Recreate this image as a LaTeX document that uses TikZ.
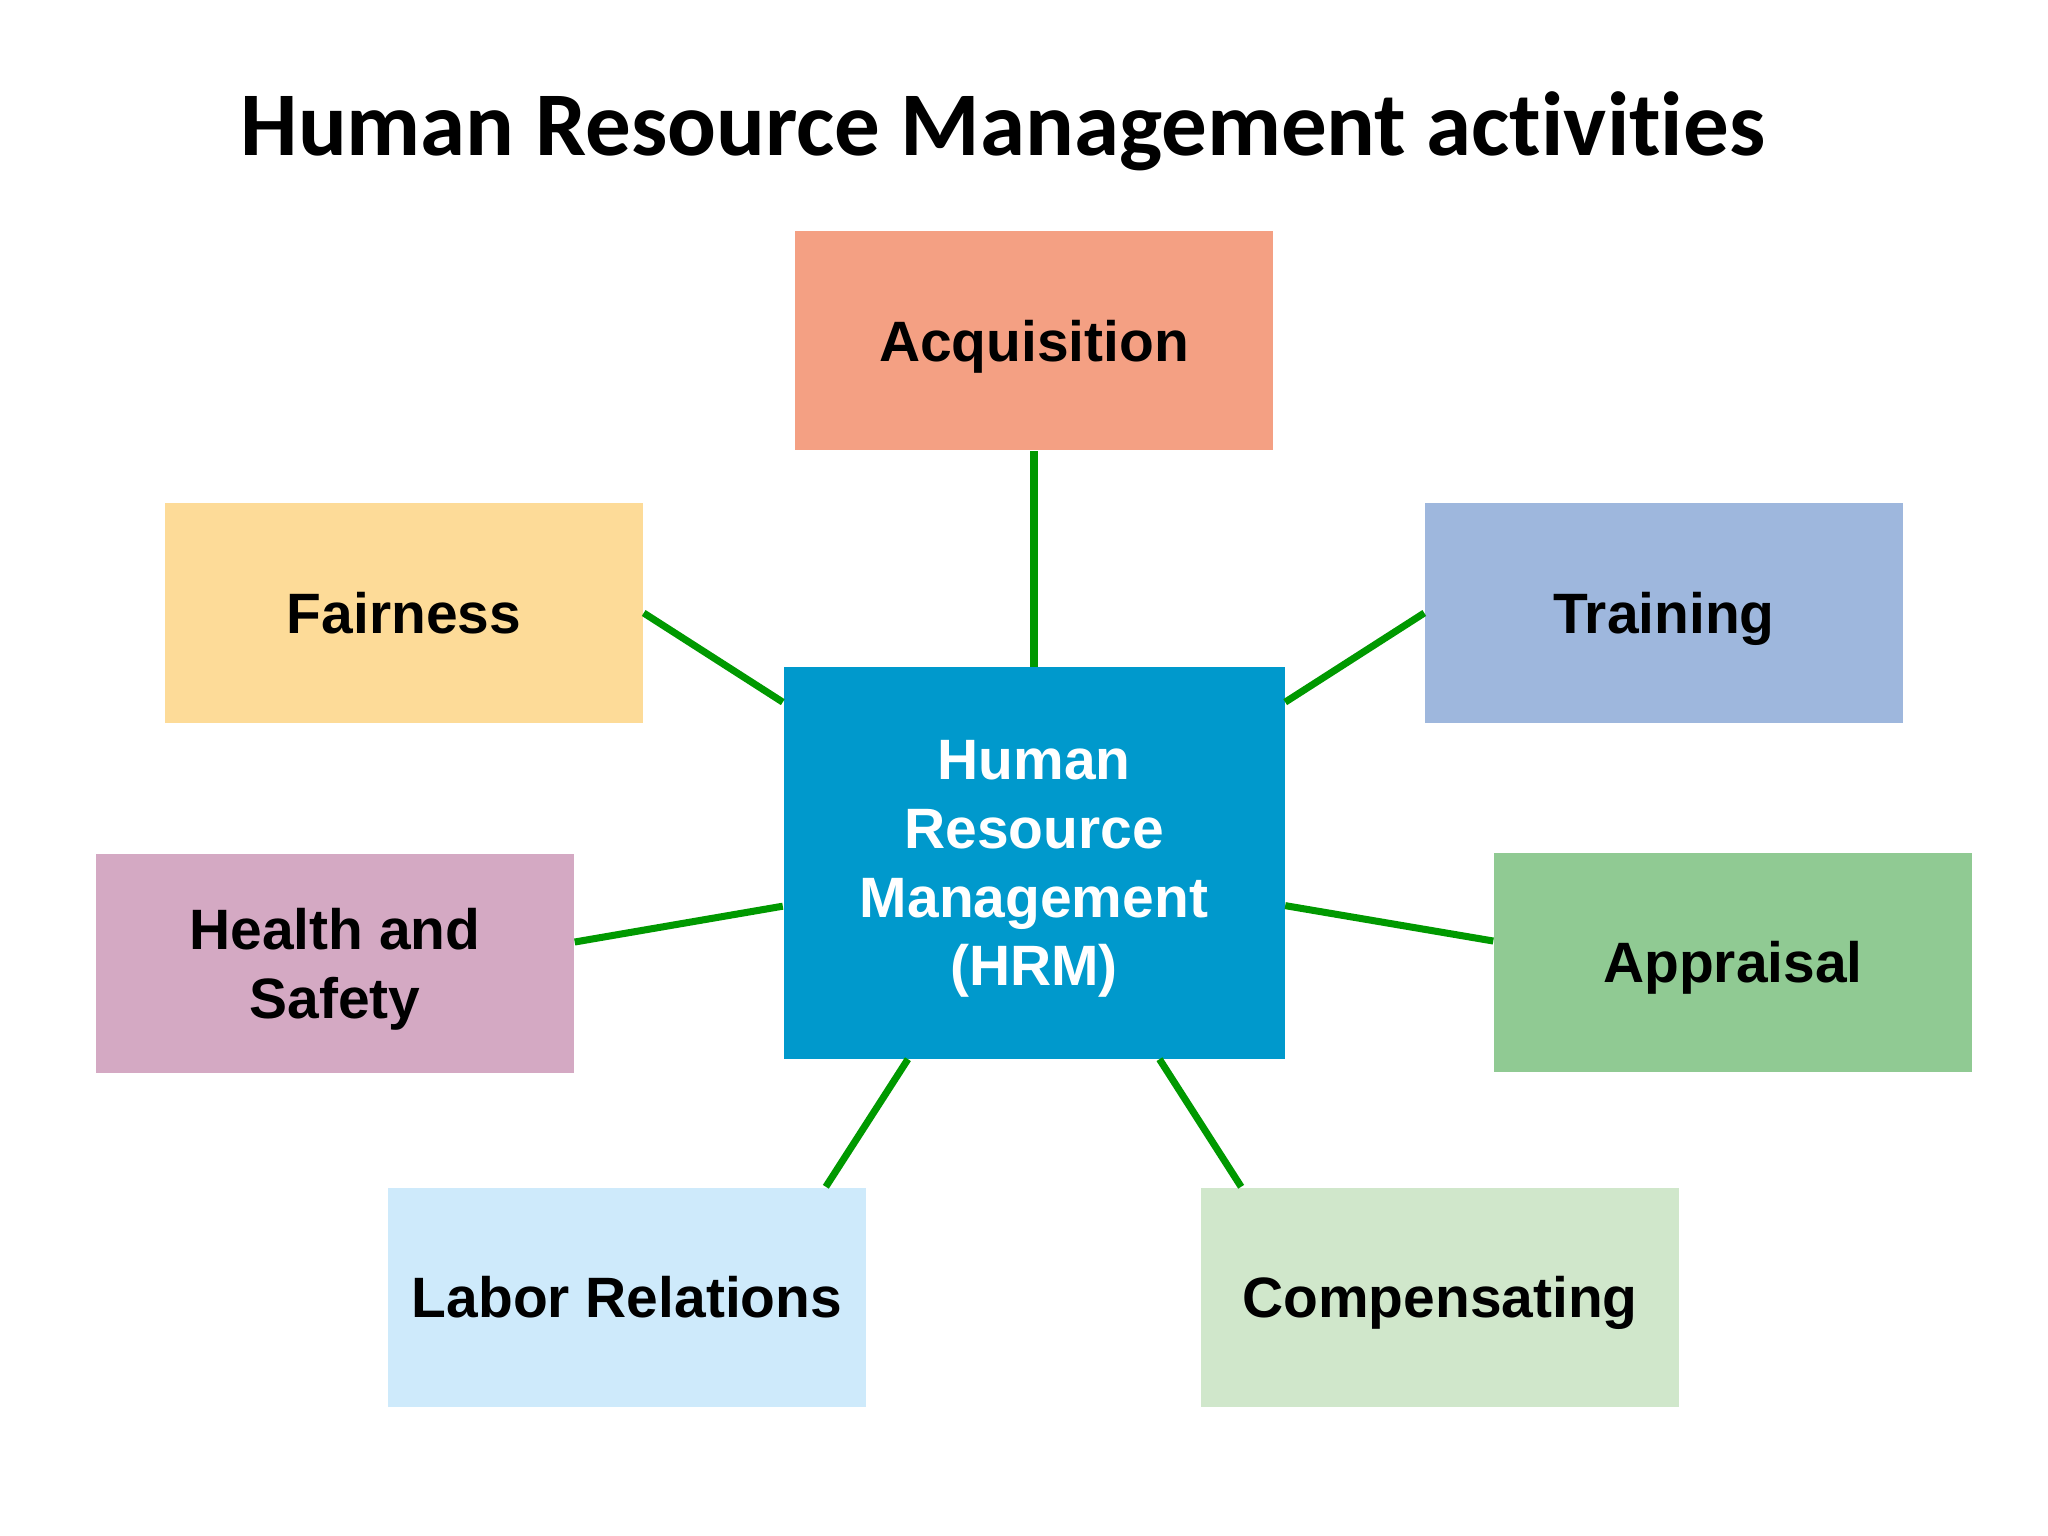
\documentclass[tikz,border=0pt]{standalone}
\usepackage{fontspec}
\setmainfont{Liberation Sans}
\newfontfamily\titlefont[Ligatures=NoCommon]{Carlito}
\usepackage{tikz}
\usetikzlibrary{positioning}
\definecolor{acqfill}{HTML}{F4A083}
\definecolor{fairfill}{HTML}{FDDB98}
\definecolor{trainfill}{HTML}{9EB7DD}
\definecolor{healthfill}{HTML}{D4A9C3}
\definecolor{apprfill}{HTML}{90CA93}
\definecolor{laborfill}{HTML}{CEEAFB}
\definecolor{compfill}{HTML}{D0E7CB}
\definecolor{hrmfill}{HTML}{0099CC}
\definecolor{linkgreen}{HTML}{009900}
\tikzset{
    activity/.style={
      rectangle,
      minimum width=4.78cm,
      minimum height=2.19cm,
      inner sep=2pt,
      text centered,
      align=center,
      text depth=0pt,
      font=\fontsize{16.2}{19.6}\selectfont\bfseries,
    },
    hub/.style={
      activity,
      fill=hrmfill,
      text=white,
      minimum width=5.01cm,
      minimum height=3.91cm,
    },
    link/.style={draw=linkgreen, line width=2pt},
}

\begin{document}
\begin{tikzpicture}[on grid]

    \useasboundingbox[fill=white] (0,0) rectangle (20.48,-15.36);

    \node[anchor=base,
    font=\titlefont\fontsize{25.9}{30}\selectfont\bfseries] (TITLE)
    at (10.03,-1.56) {Human Resource Management activities};

    \node[hub] (HRM) at (10.34,-8.63)
    {Human\\Resource\\Management\\(HRM)};

    \node[activity, fill=acqfill,
    above=5.22cm of HRM] (ACQ) {Acquisition};

    \node[activity, fill=fairfill,
    above left=2.5cm and 6.3cm of HRM] (FAIR) {Fairness};

    \node[activity, fill=trainfill,
    above right=2.5cm and 6.3cm of HRM] (TRAIN) {Training};

    \node[activity, fill=healthfill,
    below left=1cm and 6.99cm of HRM] (HEALTH) {Health and\\Safety};

    \node[activity, fill=apprfill,
    below right=0.99cm and 6.99cm of HRM] (APPR) {Appraisal};

    \node[activity, fill=laborfill,
    below left=4.34cm and 4.07cm of HRM] (LABOR) {Labor Relations};

    \node[activity, fill=compfill,
    below right=4.34cm and 4.06cm of HRM] (COMP) {Compensating};

    \path[link]
    (ACQ.south) edge (HRM)
    (FAIR.east) edge (HRM)
    (TRAIN.west) edge (HRM)
    (HEALTH.5) edge (HRM)
    (APPR.175) edge (HRM)
    (LABOR.29) edge (HRM)
    (COMP.151) edge (HRM);

\end{tikzpicture}
\end{document}
